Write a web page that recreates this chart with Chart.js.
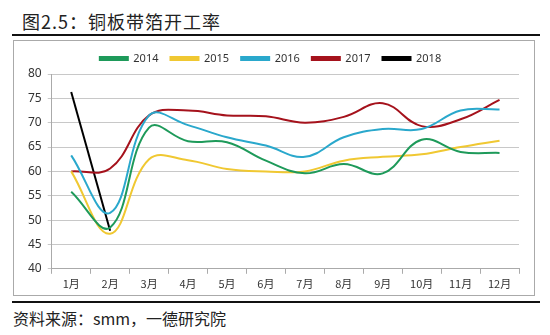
<!DOCTYPE html>
<html>
<head>
<meta charset="utf-8">
<script src="https://cdn.jsdelivr.net/npm/chart.js"></script>
<style>
  body { margin: 0; width: 550px; height: 335px; background: #fff; position: relative; overflow: hidden;
         font-family: "Noto Sans CJK SC", "Noto Sans", sans-serif; }
  #title { position: absolute; left: 22px; top: 8px; font-size: 18px; color: #222; letter-spacing: 1px; }
  .rule { position: absolute; left: 12px; width: 528px; height: 2px; background: #111; }
  #box { position: absolute; left: 13px; top: 40px; width: 520px; height: 254px; border: 1px solid #aaa; }
  #footer { position: absolute; left: 13px; top: 306px; font-size: 16px; color: #222; }
</style>
</head>
<body>
<div id="title">图2.5：铜板带箔开工率</div>
<div class="rule" style="top:34px"></div>
<div id="box"><canvas id="myChart" width="520" height="254"></canvas></div>
<div class="rule" style="top:301px"></div>
<div id="footer">资料来源：smm，一德研究院</div>
<script>
const months = ['1月', '2月', '3月', '4月', '5月', '6月', '7月', '8月', '9月', '10月', '11月', '12月'];

const y2014 = [55.8, 48.5, 69, 66.2, 66, 62.2, 59.6, 61.5, 59.6, 66.5, 64, 63.8];
const y2015 = [60, 47.2, 62.5, 62.3, 60.5, 60, 60, 62.2, 63, 63.5, 65, 66.3];
const y2016 = [63.3, 51.5, 71.5, 69.5, 67, 65.3, 63, 67, 68.7, 68.7, 72.5, 72.7];
const y2017 = [60, 60.6, 71.5, 72.5, 71.5, 71.3, 70, 71.2, 74, 69.3, 70.7, 74.7];
const y2018 = [76.3, 47.8];

const ctx = document.getElementById("myChart").getContext("2d");

function series(label, data, color, tension) {
  return {
    label: label,
    data: data,
    borderColor: color,
    backgroundColor: color,
    borderWidth: 2,
    pointRadius: 0,
    tension: tension,
    fill: false
  };
}

const config = {
  type: 'line',
  data: {
    labels: months,
    datasets: [
      series('2014', y2014, '#1e9a5a', 0.4),
      series('2015', y2015, '#f0c832', 0.4),
      series('2016', y2016, '#2aa8cc', 0.4),
      series('2017', y2017, '#a5121c', 0.4),
      series('2018', y2018, '#000000', 0)
    ]
  },
  options: {
    responsive: false,
    animation: false,
    layout: { padding: { left: 8, right: 15, top: 0, bottom: 2 } },
    plugins: {
      legend: {
        position: 'top',
        labels: {
          boxWidth: 28,
          boxHeight: 3,
          padding: 12,
          color: '#333',
          font: { size: 11, family: 'Noto Sans' }
        }
      },
      tooltip: { enabled: false }
    },
    scales: {
      x: {
        offset: true,
        grid: { offset: true, drawOnChartArea: false, tickLength: 5, color: '#aaa' },
        border: { color: '#aaa' },
        ticks: { color: '#333', font: { size: 11, family: 'Noto Sans CJK SC' }, maxRotation: 0 }
      },
      y: {
        min: 40,
        max: 80,
        ticks: { stepSize: 5, color: '#333', font: { size: 12, family: 'Noto Sans' }, padding: 6 },
        grid: { color: '#c8c8c8', drawTicks: true, tickLength: 4 },
        border: { color: '#aaa' }
      }
    }
  }
};

const myChart = new Chart(ctx, config);
</script>
</body>
</html>
